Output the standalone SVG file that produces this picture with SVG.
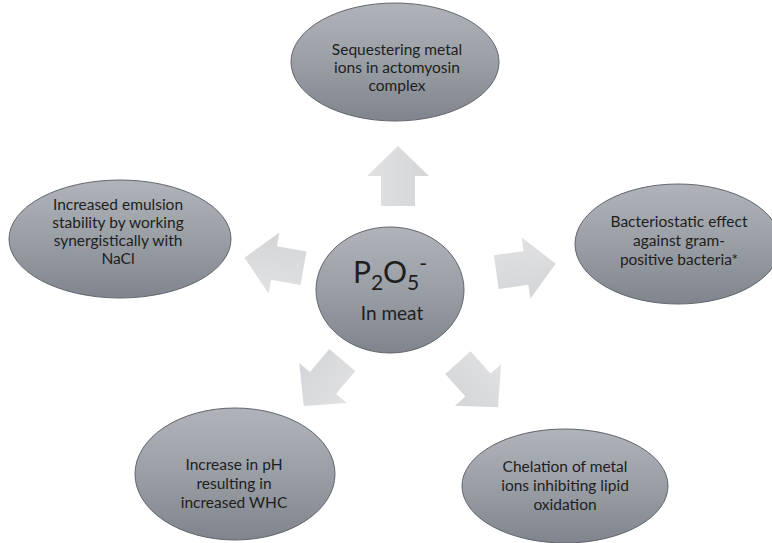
<svg xmlns="http://www.w3.org/2000/svg" width="772" height="543" viewBox="0 0 772 543">
<defs>
<linearGradient id="eg" x1="0" y1="0" x2="0" y2="1">
<stop offset="0" stop-color="#b0b3ba"/>
<stop offset="0.5" stop-color="#9a9ea5"/>
<stop offset="1" stop-color="#80848c"/>
</linearGradient>
<linearGradient id="ag" x1="0" y1="0" x2="0" y2="1">
<stop offset="0" stop-color="#e0e1e3"/>
<stop offset="1" stop-color="#d3d5d8"/>
</linearGradient>
<path id="arr" d="M-30,-17 L0,-17 L0,-31 L30,0 L0,31 L0,17 L-30,17 Z"/>
</defs>
<style>
.node ellipse{fill:url(#eg);stroke:#62656b;stroke-width:1}
.lbl{font-family:"Lato","Liberation Sans",sans-serif;font-size:15.5px;fill:#1e1e1e;text-anchor:middle}
.arrow{fill:url(#ag)}
</style>
<rect width="772" height="543" fill="#ffffff"/>
<g id="connectors">
<use href="#arr" class="arrow" transform="translate(398,176) rotate(-90)"/>
<use href="#arr" class="arrow" transform="translate(526,268) rotate(-8)"/>
<use href="#arr" class="arrow" transform="translate(274,263) rotate(190)"/>
<use href="#arr" class="arrow" transform="translate(323,383) rotate(130)"/>
<use href="#arr" class="arrow" transform="translate(478,385) rotate(48)"/>
</g>
<g id="node-top" class="node">
<ellipse cx="395" cy="62" rx="104" ry="59"/>
<text class="lbl" x="397" y="55">Sequestering metal</text>
<text class="lbl" x="397" y="73">ions in actomyosin</text>
<text class="lbl" x="397" y="91">complex</text>
</g>
<g id="node-left" class="node">
<ellipse cx="120" cy="239" rx="111" ry="59"/>
<text class="lbl" x="118" y="210">Increased emulsion</text>
<text class="lbl" x="118" y="228">stability by working</text>
<text class="lbl" x="118" y="246">synergistically with</text>
<text class="lbl" x="118" y="264">NaCl</text>
</g>
<g id="node-right" class="node">
<ellipse cx="678" cy="244" rx="103" ry="60"/>
<text class="lbl" x="679" y="227">Bacteriostatic effect</text>
<text class="lbl" x="679" y="246">against gram-</text>
<text class="lbl" x="679" y="265">positive bacteria*</text>
</g>
<g id="node-center" class="node">
<ellipse cx="390" cy="290" rx="74" ry="63"/>
<text x="390" y="283" style="font-family:'Lato','Liberation Sans',sans-serif;font-size:30px;fill:#1e1e1e;text-anchor:middle">P<tspan font-size="21" dy="7">2</tspan><tspan dy="-7">O</tspan><tspan font-size="21" dy="7">5</tspan><tspan font-size="21" dy="-19">-</tspan></text>
<text x="392" y="320" style="font-family:'Lato','Liberation Sans',sans-serif;font-size:19px;fill:#1e1e1e;text-anchor:middle">In meat</text>
</g>
<g id="node-bottom-left" class="node">
<ellipse cx="235" cy="474" rx="100" ry="66"/>
<text class="lbl" x="234" y="470">Increase in pH</text>
<text class="lbl" x="234" y="489">resulting in</text>
<text class="lbl" x="234" y="508">increased WHC</text>
</g>
<g id="node-bottom-right" class="node">
<ellipse cx="565" cy="486" rx="103" ry="57"/>
<text class="lbl" x="565" y="472">Chelation of metal</text>
<text class="lbl" x="565" y="491">ions inhibiting lipid</text>
<text class="lbl" x="565" y="510">oxidation</text>
</g>
</svg>
